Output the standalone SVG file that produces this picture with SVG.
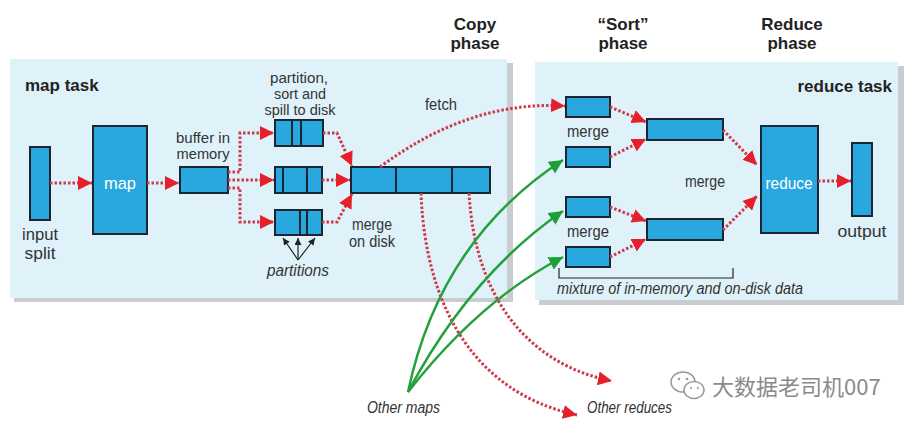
<svg xmlns="http://www.w3.org/2000/svg" width="909" height="427" viewBox="0 0 909 427">
<style>
text{font-family:"Liberation Sans",Arial,sans-serif;fill:#333;font-size:16px;}
.b{font-weight:bold;font-size:17px;fill:#222;}
.i{font-style:italic;}
.w{fill:#fff;font-size:17px;}
.lg{font-size:17px;}
.sm{font-size:14px;}
.c{text-anchor:middle;}
.box{fill:#29a8df;stroke:#1c2633;stroke-width:2;}
.div{stroke:#1c2633;stroke-width:2;}
.panel{fill:#dff2fa;}
.shadow{fill:#c9cdd0;}
.dot{fill:none;stroke:#cc3a4c;stroke-width:3;stroke-dasharray:2.5 2;}
.grn{fill:none;stroke:#24a13a;stroke-width:2.5;}
.blk{fill:none;stroke:#222;stroke-width:1.2;}
.wm{font-family:"Noto Sans CJK SC","Liberation Sans",sans-serif;fill:#8a8a8a;font-size:22px;}
</style>
<defs>
<marker id="ar" markerUnits="userSpaceOnUse" markerWidth="14" markerHeight="14" refX="14" refY="7" orient="auto">
<path d="M0,0 L14,7 L0,14 z" fill="#e5202b"/>
</marker>
<marker id="ag" markerUnits="userSpaceOnUse" markerWidth="14" markerHeight="14" refX="14" refY="7" orient="auto">
<path d="M0,0 L14,7 L0,14 z" fill="#1f9e35"/>
</marker>
<marker id="ak" markerUnits="userSpaceOnUse" markerWidth="7" markerHeight="7" refX="7" refY="3.5" orient="auto">
<path d="M0,0 L7,3.5 L0,7 z" fill="#222"/>
</marker>
</defs>
<rect width="909" height="427" fill="#fff"/>

<g id="map-panel">
<rect class="shadow" x="14" y="63" width="499" height="239"/>
<rect class="panel" x="10" y="59" width="497" height="239"/>
<text class="b" x="25" y="91">map task</text>
</g>
<g id="reduce-panel">
<rect class="shadow" x="539" y="66" width="365" height="239"/>
<rect class="panel" x="535" y="62" width="363" height="238"/>
<text class="b" x="892" y="92" text-anchor="end">reduce task</text>
</g>

<g id="phase-labels">
<text class="b c" x="475" y="30">Copy</text>
<text class="b c" x="475" y="49">phase</text>
<text class="b c" x="623" y="30">“Sort”</text>
<text class="b c" x="623" y="49">phase</text>
<text class="b c" x="792" y="30">Reduce</text>
<text class="b c" x="792" y="49">phase</text>
</g>

<g id="input-split">
<rect class="box" x="30" y="147" width="20" height="73"/>
<text class="lg c" x="40" y="240" textLength="36" lengthAdjust="spacingAndGlyphs">input</text>
<text class="lg c" x="40" y="259" textLength="31" lengthAdjust="spacingAndGlyphs">split</text>
</g>
<g id="map">
<rect class="box" x="93" y="126" width="54" height="108"/>
<text class="w c" x="120" y="189" textLength="32" lengthAdjust="spacingAndGlyphs">map</text>
</g>
<g id="buffer">
<rect class="box" x="180" y="167" width="48" height="26"/>
<text class="sm c" x="203" y="143" textLength="54" lengthAdjust="spacingAndGlyphs">buffer in</text>
<text class="sm c" x="203" y="159" textLength="53" lengthAdjust="spacingAndGlyphs">memory</text>
</g>
<g id="spills">
<text class="sm c" x="299" y="83" textLength="58" lengthAdjust="spacingAndGlyphs">partition,</text>
<text class="sm c" x="300" y="99" textLength="52" lengthAdjust="spacingAndGlyphs">sort and</text>
<text class="sm c" x="300" y="115" textLength="71" lengthAdjust="spacingAndGlyphs">spill to disk</text>
<rect class="box" x="275" y="120" width="48" height="26"/>
<line class="div" x1="292" y1="120" x2="292" y2="146"/>
<line class="div" x1="301" y1="120" x2="301" y2="146"/>
<rect class="box" x="275" y="167" width="47" height="26"/>
<line class="div" x1="283" y1="167" x2="283" y2="193"/>
<line class="div" x1="307" y1="167" x2="307" y2="193"/>
<rect class="box" x="275" y="210" width="47" height="25"/>
<line class="div" x1="300" y1="210" x2="300" y2="235"/>
<line class="div" x1="307" y1="210" x2="307" y2="235"/>
<text class="i c" x="298" y="276" textLength="62" lengthAdjust="spacingAndGlyphs">partitions</text>
</g>
<g id="merged-file">
<rect class="box" x="351" y="167" width="139" height="26"/>
<line class="div" x1="396" y1="167" x2="396" y2="193"/>
<line class="div" x1="452" y1="167" x2="452" y2="193"/>
<text class="c" x="372" y="230" textLength="40" lengthAdjust="spacingAndGlyphs">merge</text>
<text class="c" x="372" y="247" textLength="46" lengthAdjust="spacingAndGlyphs">on disk</text>
<text class="c" x="441" y="110" textLength="32" lengthAdjust="spacingAndGlyphs">fetch</text>
</g>

<g id="sort-stage">
<rect class="box" x="566" y="97" width="44" height="20"/>
<rect class="box" x="566" y="147" width="44" height="20"/>
<rect class="box" x="566" y="197" width="44" height="20"/>
<rect class="box" x="566" y="247" width="44" height="20"/>
<text class="c" x="588" y="137" textLength="42" lengthAdjust="spacingAndGlyphs">merge</text>
<text class="c" x="588" y="237" textLength="42" lengthAdjust="spacingAndGlyphs">merge</text>
<rect class="box" x="647" y="119" width="76" height="21"/>
<rect class="box" x="647" y="219" width="76" height="21"/>
<text class="c" x="705" y="187" textLength="40" lengthAdjust="spacingAndGlyphs">merge</text>
<path class="blk" d="M559,268 V278 H733 V268"/>
<text class="i" x="557" y="294" textLength="246" lengthAdjust="spacingAndGlyphs">mixture of in-memory and on-disk data</text>
</g>
<g id="reduce">
<rect class="box" x="761" y="126" width="57" height="107"/>
<text class="w c" x="789" y="189" textLength="47" lengthAdjust="spacingAndGlyphs">reduce</text>
</g>
<g id="output">
<rect class="box" x="852" y="143" width="20" height="73"/>
<text class="lg c" x="862" y="237" textLength="49" lengthAdjust="spacingAndGlyphs">output</text>
</g>

<g id="other">
<text class="i" x="367" y="413" textLength="73" lengthAdjust="spacingAndGlyphs">Other maps</text>
<text class="i" x="587" y="413" textLength="85" lengthAdjust="spacingAndGlyphs">Other reduces</text>
</g>

<g id="connectors">
<path class="dot" d="M50,183 H92" marker-end="url(#ar)"/>
<path class="dot" d="M147,183 H179" marker-end="url(#ar)"/>
<path class="dot" d="M228,172 H240 V133 H274" marker-end="url(#ar)"/>
<path class="dot" d="M228,180 H274" marker-end="url(#ar)"/>
<path class="dot" d="M228,188 H240 V222 H274" marker-end="url(#ar)"/>
<path class="dot" d="M323,133 H337 L352,166" marker-end="url(#ar)"/>
<path class="dot" d="M322,180 H350" marker-end="url(#ar)"/>
<path class="dot" d="M322,222 H337 L352,194" marker-end="url(#ar)"/>
<path class="dot" d="M380,167 Q470,100 565,106" marker-end="url(#ar)"/>
<path class="dot" d="M421,193 C425,300 470,392 577,415" marker-end="url(#ar)"/>
<path class="dot" d="M469,193 C475,300 530,365 612,381" marker-end="url(#ar)"/>
<path class="dot" d="M610,107 L646,122" marker-end="url(#ar)"/>
<path class="dot" d="M610,157 L646,139" marker-end="url(#ar)"/>
<path class="dot" d="M610,207 L646,221" marker-end="url(#ar)"/>
<path class="dot" d="M610,257 L646,239" marker-end="url(#ar)"/>
<path class="dot" d="M723,130 L757,165" marker-end="url(#ar)"/>
<path class="dot" d="M723,230 L757,196" marker-end="url(#ar)"/>
<path class="dot" d="M818,181 H851" marker-end="url(#ar)"/>
<path class="grn" d="M408,392 Q440,240 563,160" marker-end="url(#ag)"/>
<path class="grn" d="M408,392 Q470,275 563,211" marker-end="url(#ag)"/>
<path class="grn" d="M408,392 Q480,300 563,257" marker-end="url(#ag)"/>
<path class="blk" d="M298,260 L283,238" marker-end="url(#ak)"/>
<path class="blk" d="M298,260 L298,238" marker-end="url(#ak)"/>
<path class="blk" d="M298,260 L315,238" marker-end="url(#ak)"/>
</g>

<g id="watermark">
<ellipse cx="683" cy="382" rx="12" ry="10" fill="#fff" stroke="#999" stroke-width="1.5"/>
<ellipse cx="694" cy="390" rx="10" ry="8.5" fill="#fff" stroke="#999" stroke-width="1.5"/>
<circle cx="679" cy="379" r="1.3" fill="#999"/>
<circle cx="687" cy="379" r="1.3" fill="#999"/>
<circle cx="691" cy="388" r="1.1" fill="#999"/>
<circle cx="698" cy="388" r="1.1" fill="#999"/>
<text class="wm" x="712" y="395">大数据老司机007</text>
</g>
</svg>
